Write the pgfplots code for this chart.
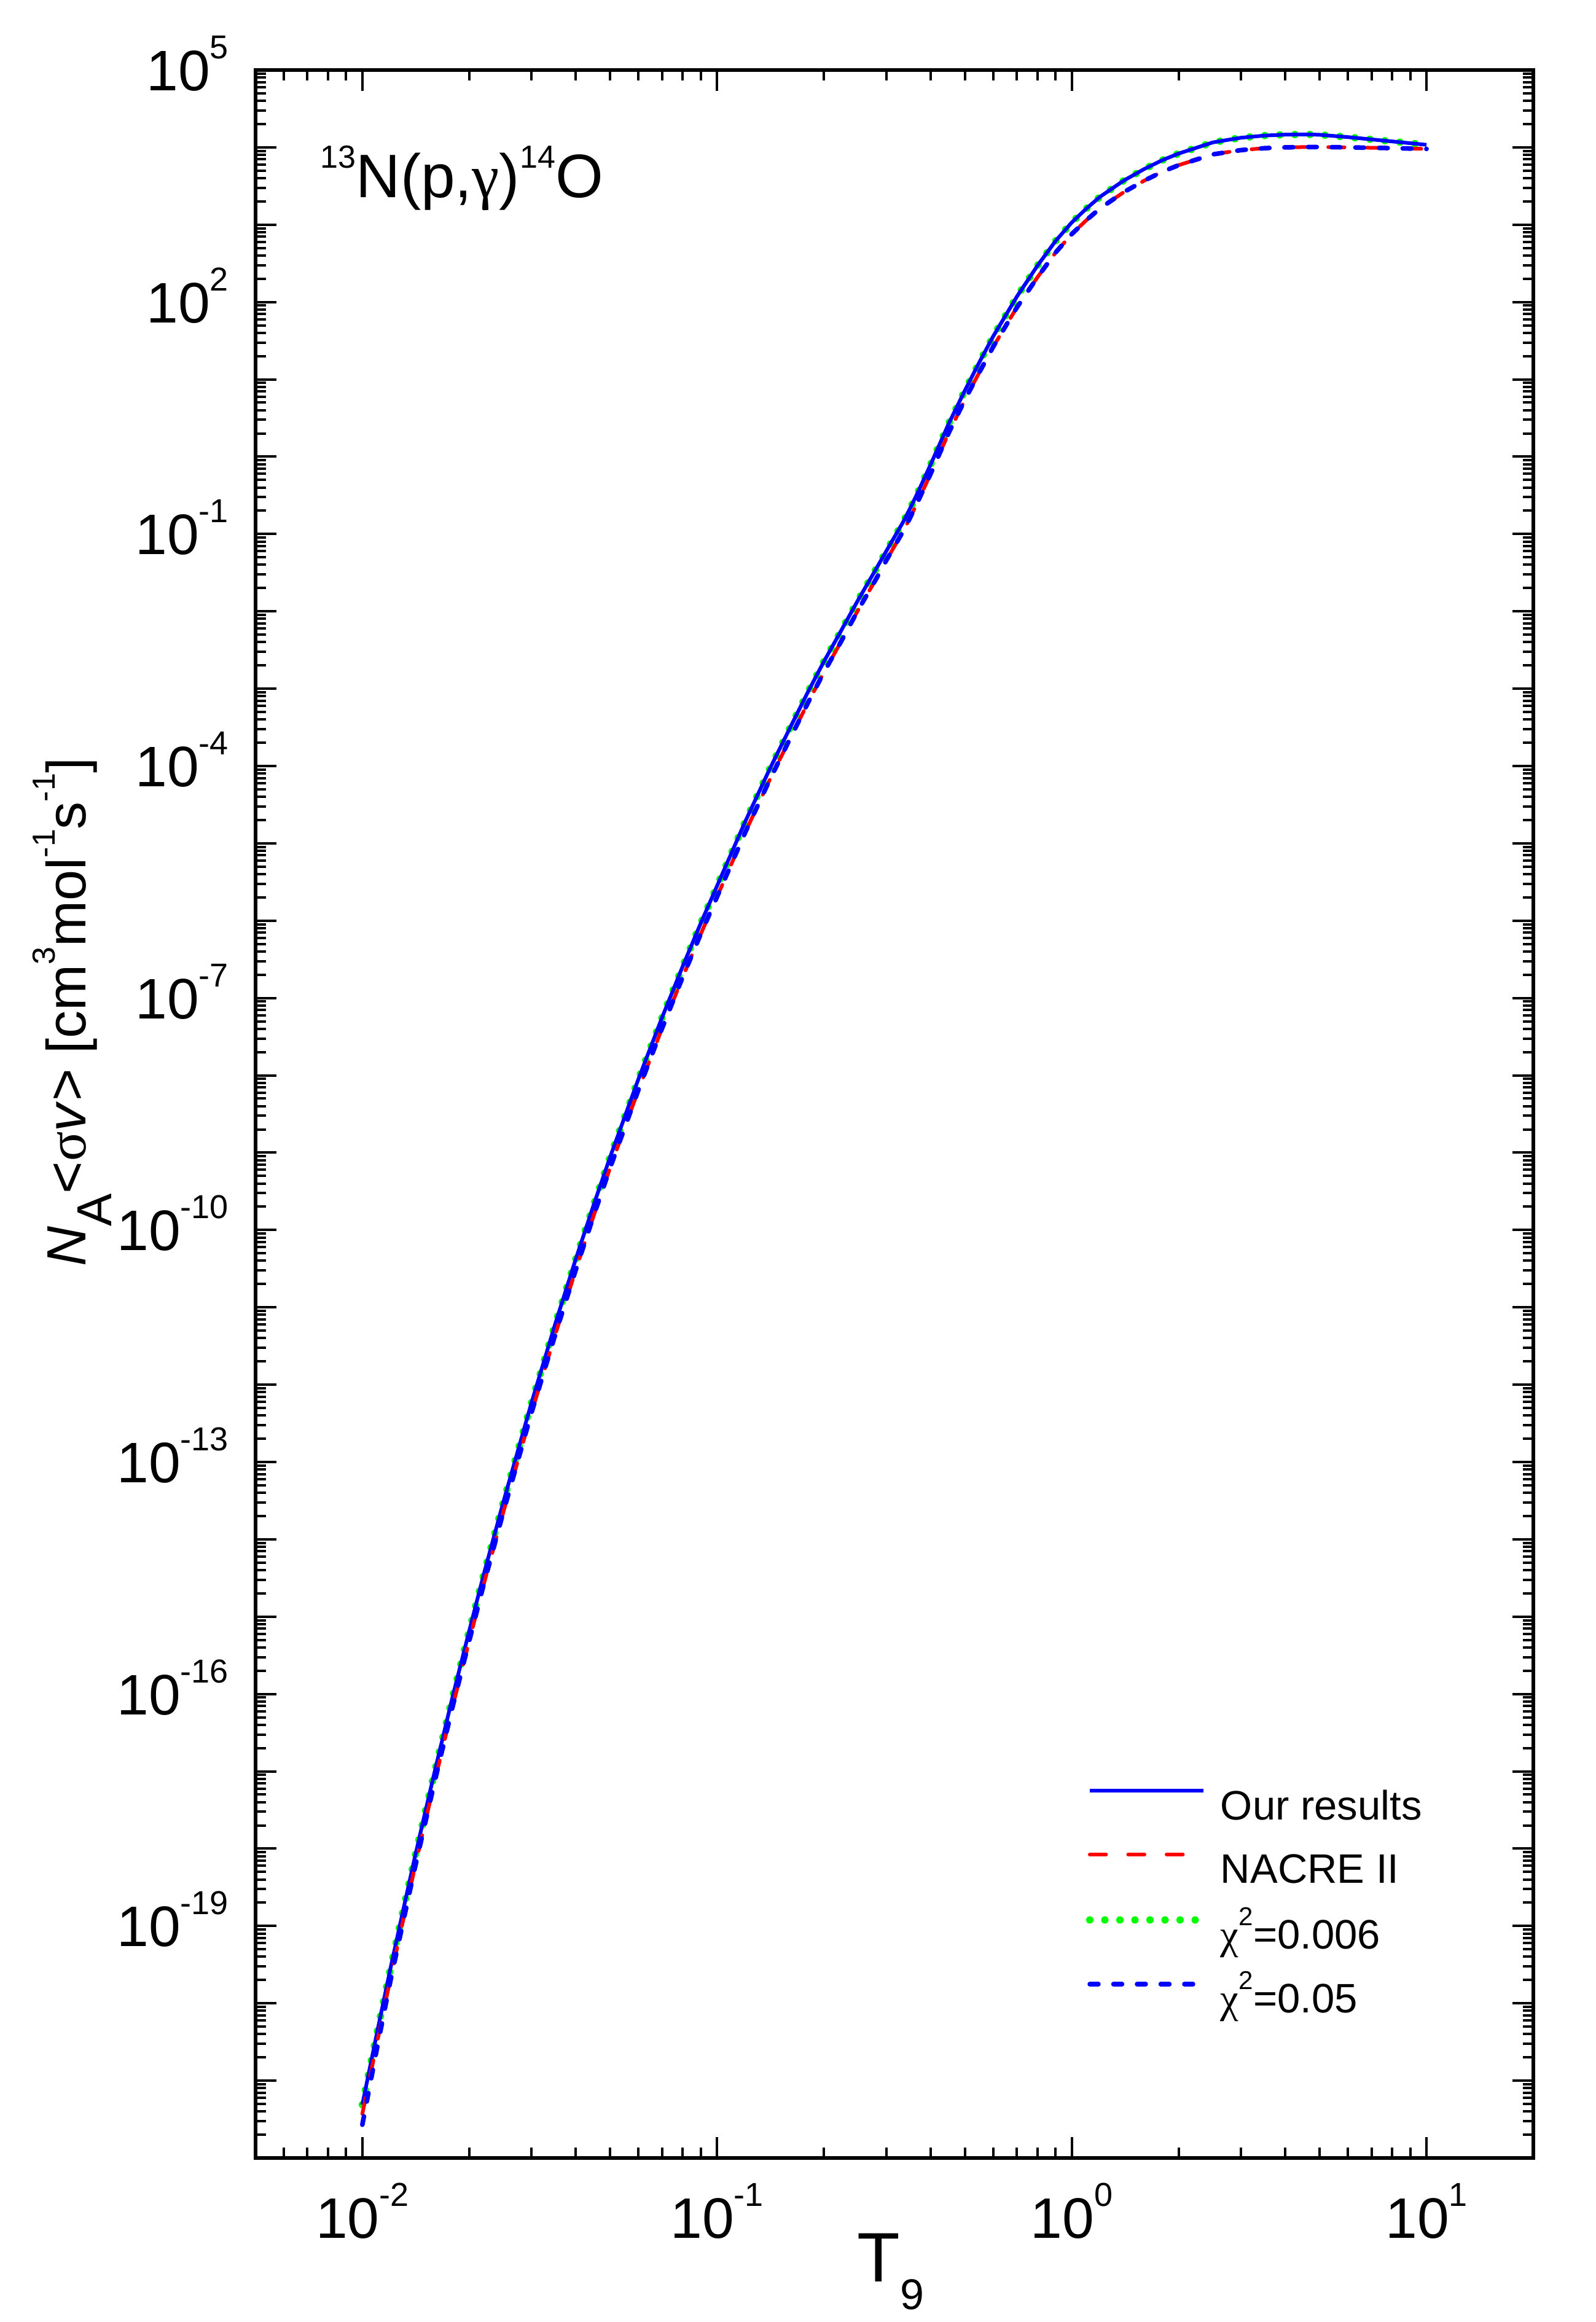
\documentclass[border=0pt]{standalone}
\usepackage{pgfplots}
\usepackage{pgfplotstable}
\pgfplotsset{compat=1.18}
\usepackage{fontspec}
\setmainfont{Liberation Sans}
\newfontfamily\symfont{Liberation Serif}
\definecolor{pgreen}{RGB}{0,255,0}
\definecolor{pblue}{RGB}{0,0,255}
\definecolor{pred}{RGB}{255,0,0}
\newcommand{\tl}[1]{10\raisebox{5.2pt}{\fontsize{5.4}{6}\selectfont#1}}
\newcommand{\sups}[1]{\raisebox{5pt}{\fontsize{5.2}{6}\selectfont#1}}

% minor ticks of the y axis: 2..9 in every decade
\def\yminors{}
\foreach \e in {-22,...,4}{\foreach \m in {2,...,9}{\xdef\yminors{\yminors\m e\e,}}}
\xdef\yminors{\yminors 1e5}

% log10 of N_A<sigma v>
\pgfplotstableread{
T      ours     nacre    chib
0.010  -21.31   -21.43   -21.57
0.011  -20.38   -20.51   -20.58
0.012  -19.55   -19.68   -19.71
0.013  -18.82   -18.95   -18.97
0.014  -18.15   -18.28   -18.29
0.015  -17.55   -17.68   -17.69
0.016  -17.00   -17.13   -17.13
0.018  -16.02   -16.15   -16.15
0.020  -15.19   -15.32   -15.32
0.022  -14.45   -14.58   -14.58
0.025  -13.51   -13.64   -13.64
0.030  -12.23   -12.36   -12.36
0.035  -11.21   -11.35   -11.35
0.040  -10.37   -10.51   -10.51
0.045  -9.66    -9.80    -9.80
0.050  -9.05    -9.19    -9.19
0.060  -8.05    -8.19    -8.19
0.070  -7.25    -7.39    -7.39
0.080  -6.59    -6.73    -6.73
0.090  -6.03    -6.17    -6.17
0.100  -5.55    -5.69    -5.69
0.120  -4.72    -4.86    -4.86
0.140  -4.06    -4.20    -4.20
0.160  -3.52    -3.66    -3.66
0.180  -3.05    -3.19    -3.19
0.200  -2.65    -2.79    -2.79
0.220  -2.31    -2.45    -2.45
0.250  -1.85    -1.98    -1.98
0.280  -1.46    -1.59    -1.59
0.300  -1.22    -1.34    -1.34
0.334  -0.85    -0.97    -0.97
0.350  -0.67    -0.79    -0.79
0.370  -0.44    -0.56    -0.56
0.400  -0.10    -0.22    -0.22
0.450   0.43     0.31     0.31
0.500   0.86     0.74     0.74
0.550   1.23     1.10     1.10
0.600   1.555    1.42     1.42
0.700   2.07     1.93     1.93
0.800   2.47     2.32     2.32
0.900   2.79     2.64     2.64
1.000   3.03     2.88     2.88
1.100   3.21     3.06     3.06
1.200   3.36     3.21     3.21
1.400   3.57     3.42     3.42
1.600   3.72     3.57     3.57
1.800   3.835    3.685    3.685
2.000   3.92     3.77     3.77
2.500   4.065    3.91     3.91
3.000   4.125    3.965    3.965
3.500   4.153    3.99     3.99
4.000   4.165    4.00     4.00
4.600   4.168    4.005    4.005
5.000   4.163    4.005    4.005
6.000   4.133    4.00     4.00
7.000   4.103    3.995    3.995
8.000   4.077    3.99     3.99
9.000   4.054    3.985    3.985
10.00   4.033    3.98     3.98
}\rates

\begin{document}
\begin{tikzpicture}
\begin{axis}[
  scale only axis, width=208pt, height=339.9pt,
  xmode=log, ymode=log, log basis x=10, log basis y=10,
  xmin=0.005, xmax=20, ymin=1e-22, ymax=1e5,
  xtickten={-2,-1,0,1},
  xticklabels={\tl{-2},\tl{-1},\tl{0},\tl{1}},
  minor xtick={0.006,0.007,0.008,0.009,0.02,0.03,0.04,0.05,0.06,0.07,0.08,0.09,0.2,0.3,0.4,0.5,0.6,0.7,0.8,0.9,2,3,4,5,6,7,8,9},
  ytickten={-22,-21,-20,-19,-18,-17,-16,-15,-14,-13,-12,-11,-10,-9,-8,-7,-6,-5,-4,-3,-2,-1,0,1,2,3,4,5},
  yticklabels={,,,\tl{-19},,,\tl{-16},,,\tl{-13},,,\tl{-10},,,\tl{-7},,,\tl{-4},,,\tl{-1},,,\tl{2},,,\tl{5}},
  minor ytick/.expanded={\yminors},
  tick align=inside, xtick pos=both, ytick pos=both,
  major tick length=3.4pt, minor tick length=1.7pt,
  every tick/.style={black, line width=0.4pt},
  axis line style={black, line width=0.55pt},
  xticklabel style={anchor=base, inner sep=0pt, yshift=-13pt, font=\fontsize{9.3}{11}\selectfont},
  yticklabel style={anchor=base east, inner sep=0pt, xshift=-4.2pt, yshift=-3.35pt, font=\fontsize{9.3}{11}\selectfont},
  xlabel={\fontsize{11.4}{13}\selectfont T\raisebox{-4.5pt}{\fontsize{7}{8}\selectfont 9}},
  xlabel style={at={(axis description cs:0.497,-0.0594)}, anchor=base, inner sep=0pt},
  ylabel={\fontsize{9}{11}\selectfont\textit{N}\raisebox{-4.2pt}{\fontsize{8}{9}\selectfont A}<{\symfont σ}\textit{v}> [cm\sups{3}mol\sups{-1}s\sups{-1}]},
  ylabel style={at={(axis description cs:-0.1327,0.5488)}, anchor=base, inner sep=0pt},
  legend image code/.code={\draw[#1] (0pt,3pt) -- (18.5pt,3pt);},
  legend cell align=left,
  legend style={draw=none, fill=none, at={(axis description cs:0.650,0.1768)}, anchor=north west,
    inner sep=0pt, outer sep=0pt, row sep=3.77pt,
    font=\fontsize{6.7}{8}\selectfont,
    nodes={inner sep=0pt, text height=5pt, text depth=1.6pt},
    /tikz/every odd column/.append style={column sep=2.2pt}},
]
\addplot[pgreen, line width=1.2pt, dash pattern=on 0pt off 2.45pt, line cap=round, forget plot] table[x=T, y expr=10^(\thisrow{ours})] {\rates};
\addplot[pblue, line width=0.6pt, forget plot] table[x=T, y expr=10^(\thisrow{ours})] {\rates};
\addplot[pred, line width=0.6pt, dash pattern=on 2.65pt off 3.6pt, line cap=round, forget plot] table[x=T, y expr=10^(\thisrow{nacre})] {\rates};
\addplot[pblue, line width=0.75pt, dash pattern=on 1.4pt off 2.45pt, line cap=round, forget plot] table[x=T, y expr=10^(\thisrow{chib})] {\rates};
\addlegendimage{pblue, line width=0.6pt}
\addlegendentry{Our results}
\addlegendimage{pred, line width=0.6pt, dash pattern=on 2.65pt off 3.6pt, line cap=round}
\addlegendentry{NACRE II}
\addlegendimage{pgreen, line width=1.2pt, dash pattern=on 0pt off 2.45pt, line cap=round}
\addlegendentry{{\symfont χ}\raisebox{3.8pt}{\fontsize{4.2}{5}\selectfont 2}=0.006}
\addlegendimage{pblue, line width=0.75pt, dash pattern=on 1.4pt off 2.45pt, line cap=round}
\addlegendentry{{\symfont χ}\raisebox{3.8pt}{\fontsize{4.2}{5}\selectfont 2}=0.05}
\node[anchor=base west, inner sep=0pt, font=\fontsize{10}{12}\selectfont] at (rel axis cs:0.05,0.9389) {\raisebox{4.8pt}{\fontsize{5.2}{6}\selectfont 13}N(p,{\symfont γ})\raisebox{4.8pt}{\fontsize{5.2}{6}\selectfont 14}O};
\end{axis}
\pgfresetboundingbox
\path[use as bounding box] ([shift={(-41.6pt,-26.7pt)}]current axis.south west) rectangle ([shift={(10.2pt,11.4pt)}]current axis.north east);
\end{tikzpicture}
\end{document}
